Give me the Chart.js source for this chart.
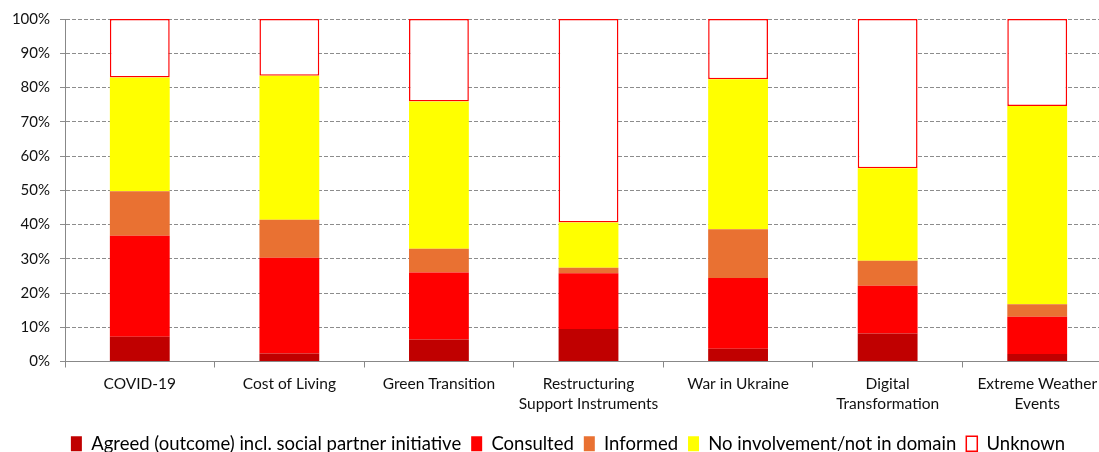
<!DOCTYPE html>
<html>
<head>
<meta charset="utf-8">
<script src="https://cdn.jsdelivr.net/npm/chart.js@4.4.1/dist/chart.umd.min.js"></script>
<style>
  html, body { margin: 0; padding: 0; background: #fff; overflow: hidden; }
  #wrap { position: relative; width: 1112px; height: 452px; }
</style>
</head>
<body>
<div id="wrap"><canvas id="chartCanvas"></canvas></div>
<script>
const categories = [
    'COVID-19',
    'Cost of Living',
    'Green Transition',
    ['Restructuring', 'Support Instruments'],
    'War in Ukraine',
    ['Digital', 'Transformation'],
    ['Extreme Weather', 'Events']
];

const agreed     = [7.2, 2.3, 6.4, 9.5, 3.7, 8.2, 2.2];
const consulted  = [29.5, 28.0, 19.6, 16.3, 20.7, 13.9, 10.9];
const informed   = [13.0, 11.1, 6.9, 1.6, 14.2, 7.3, 3.6];
const noInvolve  = [33.2, 42.0, 43.0, 13.2, 43.8, 27.0, 57.9];
const unknown    = [17.1, 16.6, 24.1, 59.4, 17.6, 43.6, 25.4];

const yTicks = [0, 10, 20, 30, 40, 50, 60, 70, 80, 90, 100];

const fontFamily = 'Lato, "Liberation Sans", sans-serif';

function bar(label, data, color, border){
    return {
        label: label,
        data: data,
        backgroundColor: color,
        borderColor: border || color,
        borderWidth: border ? 1.5 : 0,
        borderSkipped: false,
        barPercentage: 0.4,
        categoryPercentage: 1.0
    };
}

let datasets = [
    bar('Agreed (outcome) incl. social partner initiative', agreed, '#C00000'),
    bar('Consulted', consulted, '#FF0000'),
    bar('Informed', informed, '#E97132'),
    bar('No involvement/not in domain', noInvolve, '#FFFF00'),
    bar('Unknown', unknown, '#FFFFFF', '#FF0000')
];

// legend in the original sits a bit right of the canvas centre
const legendShift = {
    id: 'legendShift',
    afterLayout(chart){
        chart.legend.left += 12;
        chart.legend.right += 12;
    }
};

let chart = new Chart('chartCanvas', {
    type: 'bar',
    data: {
        labels: categories,
        datasets: datasets
    },
    plugins: [legendShift],
    options: {
        responsive: true,
        maintainAspectRatio: false,
        animation: false,
        layout: { padding: { top: 12, left: 0, right: 0, bottom: -11 } },
        plugins: {
            tooltip: { enabled: false },
            legend: {
                position: 'bottom',
                labels: {
                    color: '#000',
                    boxWidth: 11,
                    boxHeight: 15,
                    padding: 10,
                    font: { family: fontFamily, size: 18.5 }
                }
            }
        },
        scales: {
            x: {
                stacked: true,
                grid: {
                    display: true,
                    drawOnChartArea: false,
                    drawTicks: true,
                    tickLength: 6,
                    color: '#888',
                    offset: true
                },
                border: { display: true, color: '#888', width: 1 },
                ticks: {
                    color: '#111',
                    padding: 6,
                    maxRotation: 0,
                    autoSkip: false,
                    font: { family: fontFamily, size: 15.5, lineHeight: '20px' }
                },
                afterFit: (scale) => { scale.height = 63; }
            },
            y: {
                stacked: true,
                min: 0,
                max: 100,
                afterBuildTicks: (scale) => { scale.ticks = yTicks.map(v => ({ value: v })); },
                grid: {
                    color: '#8c8c8c',
                    tickLength: 5,
                    lineWidth: 1
                },
                border: { display: true, color: '#888', dash: [4, 2] },
                ticks: {
                    color: '#111',
                    padding: 10,
                    font: { family: fontFamily, size: 15 },
                    callback: (v) => v + '%'
                },
                afterFit: (scale) => { scale.width = 65; }
            }
        }
    }
});
</script>
</body>
</html>
